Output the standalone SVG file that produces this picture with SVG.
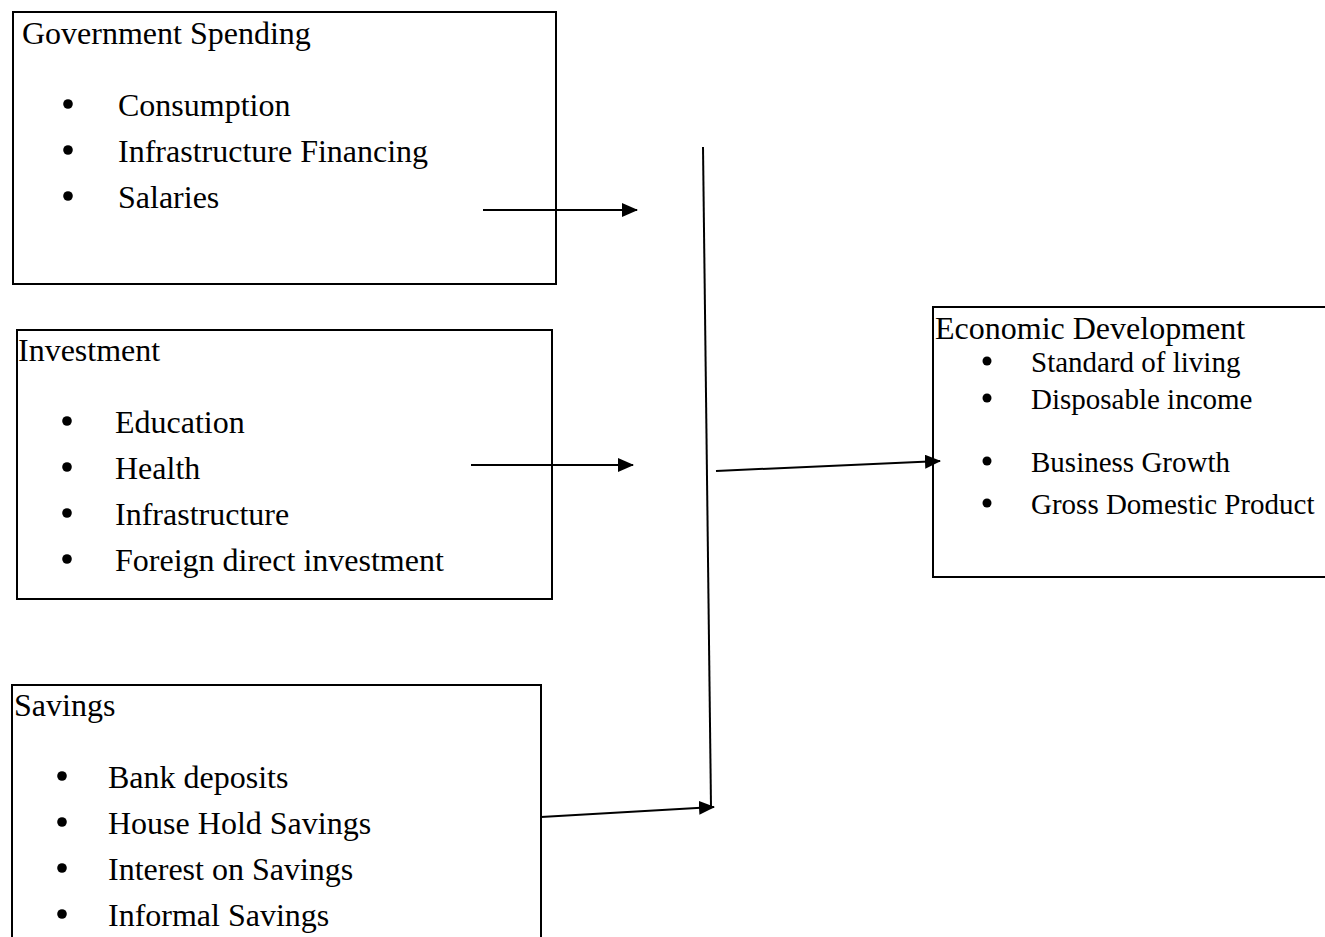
<svg xmlns="http://www.w3.org/2000/svg" width="1325" height="937" viewBox="0 0 1325 937">
<style>
.box{fill:none;stroke:#000;stroke-width:2}
.t{font-family:"Liberation Serif","Times New Roman",serif;font-size:32px;fill:#000}
.s{font-family:"Liberation Serif","Times New Roman",serif;font-size:29px;fill:#000}
.b{fill:#000}
.c{stroke:#000;stroke-width:2;fill:none}
</style>
<defs>
<marker id="ah" markerUnits="userSpaceOnUse" markerWidth="16" markerHeight="14" refX="15" refY="7" orient="auto">
<path d="M0,0 L16,7 L0,14 z" fill="#000"/>
</marker>
</defs>
<rect width="1325" height="937" fill="#fff"/>
<g id="gov">
<rect class="box" x="13" y="12" width="543" height="272"/>
<text class="t" x="22" y="44">Government Spending</text>
<circle class="b" cx="68" cy="104" r="4.8"/><text class="t" x="118" y="116">Consumption</text>
<circle class="b" cx="68" cy="150" r="4.8"/><text class="t" x="118" y="162">Infrastructure Financing</text>
<circle class="b" cx="68" cy="196" r="4.8"/><text class="t" x="118" y="208">Salaries</text>
</g>
<g id="investment">
<rect class="box" x="17" y="330" width="535" height="269"/>
<text class="t" x="18" y="361">Investment</text>
<circle class="b" cx="67" cy="421" r="4.8"/><text class="t" x="115" y="433">Education</text>
<circle class="b" cx="67" cy="467" r="4.8"/><text class="t" x="115" y="479">Health</text>
<circle class="b" cx="67" cy="513" r="4.8"/><text class="t" x="115" y="525">Infrastructure</text>
<circle class="b" cx="67" cy="559" r="4.8"/><text class="t" x="115" y="571">Foreign direct investment</text>
</g>
<g id="savings">
<path class="box" d="M12,940 L12,685 L541,685 L541,940"/>
<text class="t" x="14" y="716">Savings</text>
<circle class="b" cx="62" cy="776" r="4.8"/><text class="t" x="108" y="788">Bank deposits</text>
<circle class="b" cx="62" cy="822" r="4.8"/><text class="t" x="108" y="834">House Hold Savings</text>
<circle class="b" cx="62" cy="868" r="4.8"/><text class="t" x="108" y="880">Interest on Savings</text>
<circle class="b" cx="62" cy="914" r="4.8"/><text class="t" x="108" y="926">Informal Savings</text>
</g>
<g id="economic">
<path class="box" d="M1330,307 L933,307 L933,577 L1330,577"/>
<text class="t" x="935" y="339">Economic Development</text>
<circle class="b" cx="987" cy="361" r="4.5"/><text class="s" x="1031" y="372">Standard of living</text>
<circle class="b" cx="987" cy="398" r="4.5"/><text class="s" x="1031" y="409">Disposable income</text>
<circle class="b" cx="987" cy="461" r="4.5"/><text class="s" x="1031" y="472">Business Growth</text>
<circle class="b" cx="987" cy="503" r="4.5"/><text class="s" x="1031" y="514">Gross Domestic Product</text>
</g>
<g id="connectors">
<line class="c" x1="703" y1="147" x2="711" y2="807"/>
<line class="c" x1="483" y1="210" x2="637" y2="210" marker-end="url(#ah)"/>
<line class="c" x1="471" y1="465" x2="633" y2="465" marker-end="url(#ah)"/>
<line class="c" x1="716" y1="471" x2="940" y2="461" marker-end="url(#ah)"/>
<line class="c" x1="541" y1="817" x2="714" y2="807" marker-end="url(#ah)"/>
</g>
</svg>
